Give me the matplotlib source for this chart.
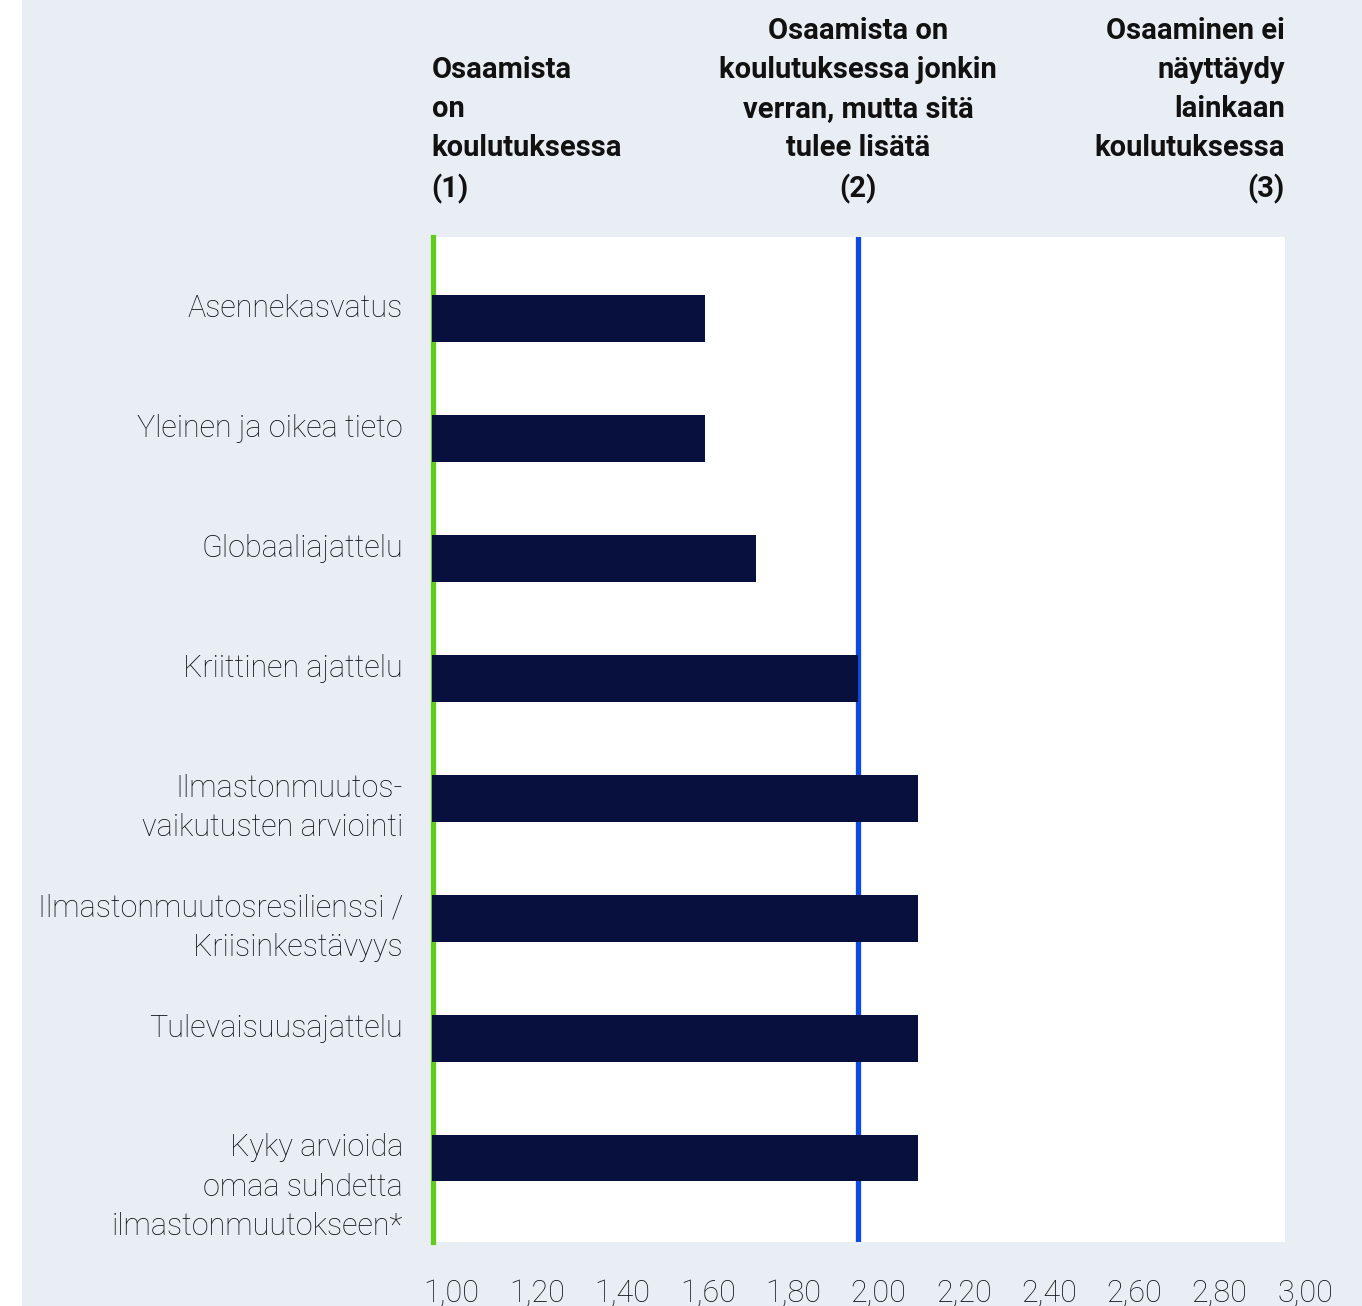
import matplotlib
matplotlib.use("Agg")
import matplotlib.pyplot as plt
import matplotlib.transforms as mtransforms
from matplotlib.patches import Rectangle

# Data
categories = [
    "Asennekasvatus",
    "Yleinen ja oikea tieto",
    "Globaaliajattelu",
    "Kriittinen ajattelu",
    "Ilmastonmuutos-\nvaikutusten arviointi",
    "Ilmastonmuutosresilienssi /\nKriisinkestävyys",
    "Tulevaisuusajattelu",
    "Kyky arvioida\nomaa suhdetta\nilmastonmuutokseen*",
]
values = [1.64, 1.64, 1.76, 2.00, 2.14, 2.14, 2.14, 2.14]
xticks = [1.0, 1.2, 1.4, 1.6, 1.8, 2.0, 2.2, 2.4, 2.6, 2.8, 3.0]
xticklabels = ["1,00", "1,20", "1,40", "1,60", "1,80", "2,00",
               "2,20", "2,40", "2,60", "2,80", "3,00"]
headers = [
    "Osaamista\non\nkoulutuksessa\n(1)",
    "Osaamista on\nkoulutuksessa jonkin\nverran, mutta sitä\ntulee lisätä\n(2)",
    "Osaaminen ei\nnäyttäydy\nlainkaan\nkoulutuksessa\n(3)",
]
header_x = [1.0, 2.0, 3.0]

BG = "#e8eef3"
NAVY = "#08103d"
GREEN = "#62cc1e"
BLUE = "#0b4be3"
TEXT = "#111111"

plt.rcParams["font.family"] = ["Roboto", "DejaVu Sans"]

W, H = 1362, 1306
fig = plt.figure(figsize=(W / 100, H / 100), dpi=100, facecolor=BG)
# white strip at the far left
fig.patches.append(Rectangle((0, 0), 22 / W, 1, transform=fig.transFigure,
                             facecolor="white", edgecolor="none", zorder=0))

left, right, top, bottom = 431.7, 1285, 237, 1242
ax = fig.add_axes([left / W, (H - bottom) / H, (right - left) / W, (bottom - top) / H])
ax.set_facecolor("white")

ypos = list(range(len(categories)))
ax.axvline(1.004, color=GREEN, linewidth=3.8, zorder=1, clip_on=False)
ax.axvline(2.0, color=BLUE, linewidth=3.8, zorder=1)
ax.barh(ypos, [v - 1.0 for v in values], left=1.0, height=0.39, color=NAVY, zorder=2)

ax.set_xlim(1.0, 3.0)
ax.set_ylim(7.70, -0.68)
for s in ax.spines.values():
    s.set_visible(False)

ax.set_yticks([])
ax.set_xticks(xticks)
ax.set_xticklabels(xticklabels, fontsize=22, color=TEXT, fontweight="light")
ax.tick_params(axis="x", length=0, pad=26)
shift = mtransforms.ScaledTranslation(20 / 100, 0, fig.dpi_scale_trans)
for lbl in ax.get_xticklabels():
    lbl.set_transform(lbl.get_transform() + shift)

# category labels, top aligned with bars
ytrans = mtransforms.blended_transform_factory(ax.transAxes, ax.transData)
for i, cat in enumerate(categories):
    ax.text(-0.0335, i - 0.205, cat, transform=ytrans, ha="right", va="top",
            fontsize=22, color=TEXT, fontweight="light", linespacing=1.45)

# column headers
htrans = mtransforms.blended_transform_factory(ax.transData, fig.transFigure)
aligns = ["left", "center", "right"]
for hx, txt, al in zip(header_x, headers, aligns):
    ax.text(hx, (H - 197) / H, txt, transform=htrans, ha=al, va="baseline",
            fontsize=21, fontweight="bold", color=TEXT, linespacing=1.5,
            multialignment=al, clip_on=False)

fig.savefig("out.png", dpi=100, facecolor=BG)
